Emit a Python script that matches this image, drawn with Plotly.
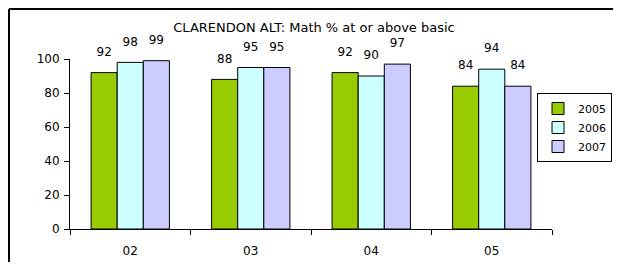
import plotly.graph_objects as go

categories = ["02", "03", "04", "05"]
series_names = ["2005", "2006", "2007"]
values_2005 = [92, 88, 92, 84]
values_2006 = [98, 95, 90, 94]
values_2007 = [99, 95, 97, 84]
colors = ["#99CC00", "#CCFFFF", "#CCCCFF"]
y_ticks = [0, 20, 40, 60, 80, 100]

FONT = "DejaVu Sans"

fig = go.Figure()
for name, vals, col in zip(series_names, [values_2005, values_2006, values_2007], colors):
    fig.add_trace(go.Bar(
        x=categories, y=vals, name=name,
        marker=dict(color=col, line=dict(color="black", width=1)),
        text=vals,
        texttemplate="<span style='font-size:12px'>%{text}</span><br> ",
        textposition="outside",
        textfont=dict(family=FONT, size=9, color="black"),
        cliponaxis=False,
    ))

# page body adds an 8px offset; figure sized so the page fits the window
W, H = 605, 254
L, R, T, B = 62, 61, 51, 33
pw, ph = W - L - R, H - T - B

def px_x(x):
    return (x - L) / pw

def px_y(y):
    return (H - B - y) / ph

border = dict(color="black", width=2)

fig.update_layout(
    width=W, height=H,
    margin=dict(l=L, r=R, t=T, b=B, pad=0, autoexpand=False),
    paper_bgcolor="white", plot_bgcolor="white",
    barmode="group", bargap=0.35, bargroupgap=0,
    font=dict(family=FONT, size=12, color="black"),
    title=dict(text="CLARENDON ALT: Math % at or above basic",
               font=dict(family=FONT, size=13, color="black"),
               x=306 / W, xanchor="center",
               y=1 - 19 / H, yanchor="middle"),
    showlegend=True,
    legend=dict(x=px_x(604), y=px_y(85), xanchor="right", yanchor="top",
                bordercolor="black", borderwidth=1, bgcolor="white",
                font=dict(family=FONT, size=11, color="black"),
                itemwidth=30, tracegroupgap=0),
    xaxis=dict(showline=True, linecolor="black", linewidth=1,
               ticks="outside", ticklen=5, tickcolor="black",
               tickson="boundaries", showgrid=False, ticklabelstandoff=11,
               tickfont=dict(family=FONT, size=12)),
    yaxis=dict(range=[0, 100], tickvals=y_ticks, showline=True,
               linecolor="black", linewidth=1, ticks="outside", ticklen=5,
               tickcolor="black", showgrid=False, zeroline=False,
               ticklabelstandoff=2,
               tickfont=dict(family=FONT, size=12)),
    shapes=[
        dict(type="line", xref="paper", yref="paper",
             x0=px_x(1), x1=px_x(1), y0=px_y(1), y1=px_y(H),
             line=border, layer="below"),
        dict(type="line", xref="paper", yref="paper",
             x0=px_x(1), x1=px_x(W), y0=px_y(1), y1=px_y(1),
             line=border, layer="below"),
    ],
)

fig.write_html("out.html")
